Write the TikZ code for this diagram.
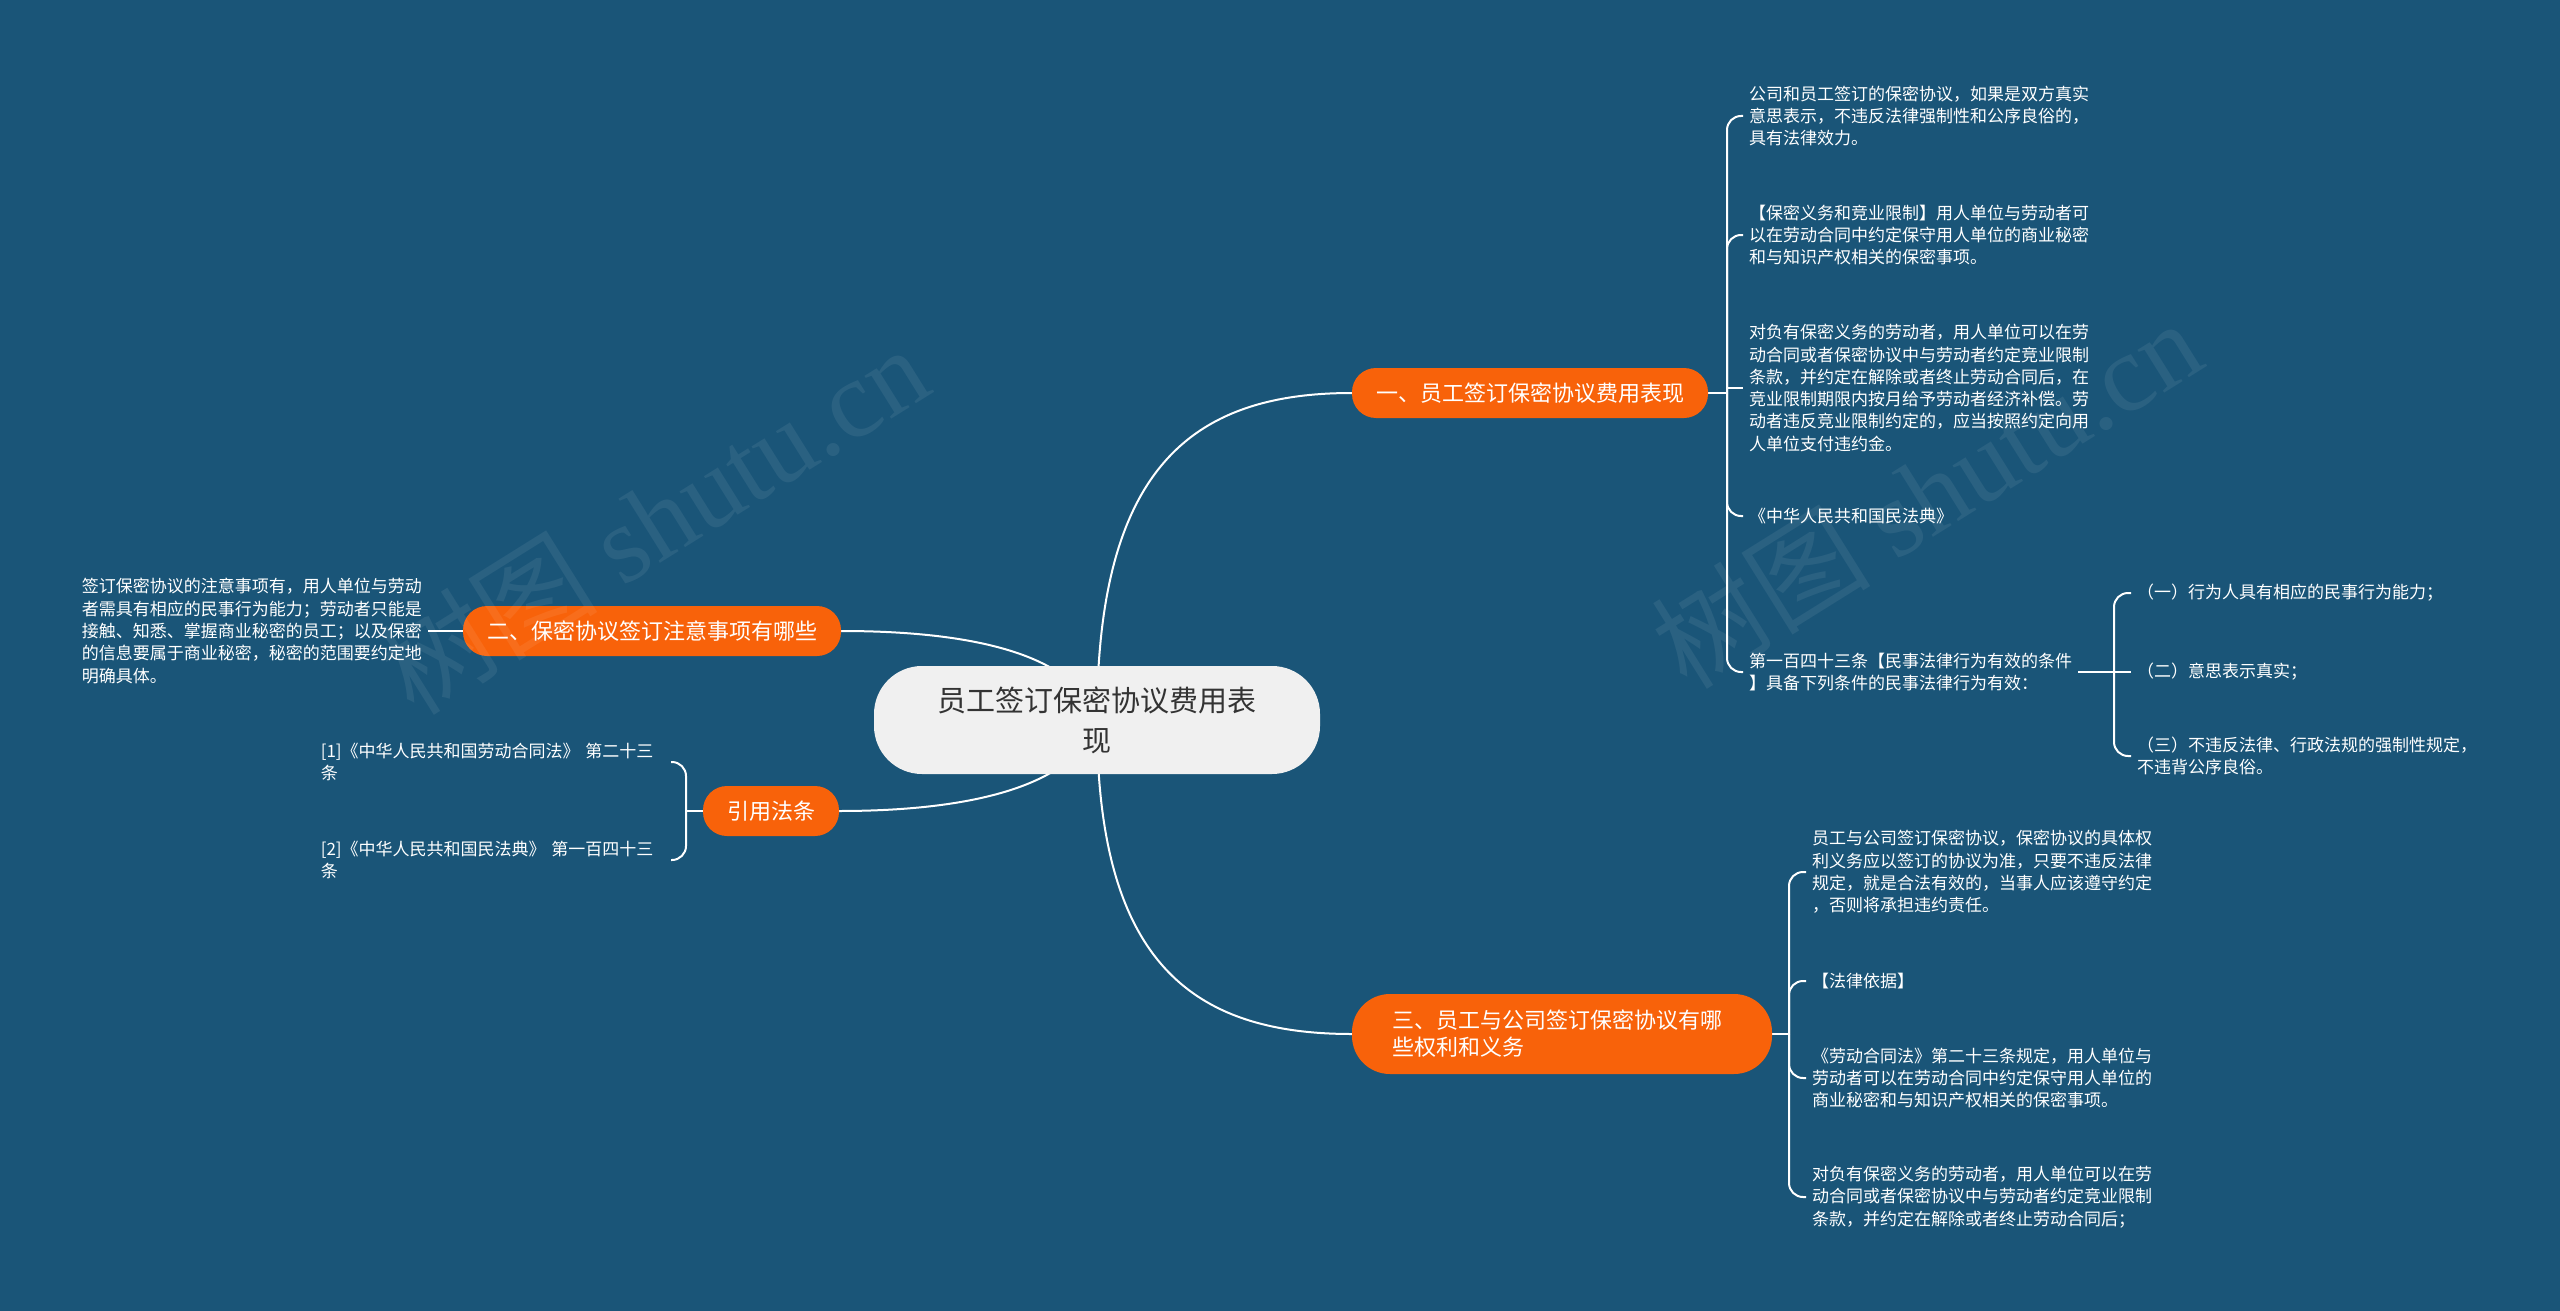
\documentclass[tikz,border=0pt]{standalone}
\usepackage{fontspec}
\setmainfont{Noto Sans CJK SC}
\newfontfamily\wmserif{Liberation Serif}
\usetikzlibrary{backgrounds}
\definecolor{bgblue}{HTML}{1A5578}
\definecolor{brorange}{HTML}{F8620A}
\definecolor{rootfill}{HTML}{F0F0F0}
\definecolor{roottext}{HTML}{333333}
\begin{document}
\begin{tikzpicture}[x=1pt,y=-1pt,
  conn/.style={draw=white, line width=2pt},
  brk/.style={draw=white, line width=2pt, rounded corners=14pt},
  rootnode/.style={fill=rootfill, text=roottext, rounded corners=48pt, font=\fontsize{29}{40}\selectfont, align=center, minimum width=446pt, minimum height=108pt, inner sep=0pt},
  branch/.style={fill=brorange, text=white, rounded corners=24pt, font=\fontsize{22}{27}\selectfont, inner xsep=24pt, inner ysep=0pt, minimum height=50pt},
  leaf/.style={text=white, font=\fontsize{17}{22.3}\selectfont, align=left, inner xsep=6pt, inner ysep=0pt},
  wmark/.style={text=white, opacity=0.07, rotate=32, font=\fontsize{110}{110}\selectfont}
]
\useasboundingbox (0,0) rectangle (2560,1311);

% root and branches
\node[rootnode] (root) at (1097,720) {员工签订保密协议费用表\\现};
\node[branch] (n1) at (1530,393) {一、员工签订保密协议费用表现};
\node[branch, minimum height=80pt, rounded corners=38pt, text width=340pt, inner xsep=40pt, align=left] (n3) at (1562,1034) {三、员工与公司签订保密协议有哪\\些权利和义务};
\node[branch] (n2) at (652,631) {二、保密协议签订注意事项有哪些};
\node[branch] (n4) at (771,811) {引用法条};

% branch 1 leaves
\coordinate (b1) at (1727,393);
\node[leaf, anchor=west] (a1) at (1743,116) {公司和员工签订的保密协议，如果是双方真实\\意思表示，不违反法律强制性和公序良俗的，\\具有法律效力。};
\node[leaf, anchor=west] (a2) at (1743,235) {【保密义务和竞业限制】用人单位与劳动者可\\以在劳动合同中约定保守用人单位的商业秘密\\和与知识产权相关的保密事项。};
\node[leaf, anchor=west] (a3) at (1743,388) {对负有保密义务的劳动者，用人单位可以在劳\\动合同或者保密协议中与劳动者约定竞业限制\\条款，并约定在解除或者终止劳动合同后，在\\竞业限制期限内按月给予劳动者经济补偿。劳\\动者违反竞业限制约定的，应当按照约定向用\\人单位支付违约金。};
\node[leaf, anchor=west] (a4) at (1743,516) {《中华人民共和国民法典》};
\node[leaf, anchor=west] (a5) at (1743,672) {第一百四十三条【民事法律行为有效的条件\\】具备下列条件的民事法律行为有效：};

% sub leaves
\coordinate (b5) at (2114,672);
\node[leaf, anchor=west] (s1) at (2131,593) {（一）行为人具有相应的民事行为能力；};
\node[leaf, anchor=west] (s2) at (2131,672) {（二）意思表示真实；};
\node[leaf, anchor=west] (s3) at (2131,756) {（三）不违反法律、行政法规的强制性规定，\\不违背公序良俗。};

% branch 3 leaves
\coordinate (b3) at (1789,1034);
\node[leaf, anchor=west] (c1) at (1806,872) {员工与公司签订保密协议，保密协议的具体权\\利义务应以签订的协议为准，只要不违反法律\\规定，就是合法有效的，当事人应该遵守约定\\，否则将承担违约责任。};
\node[leaf, anchor=west] (c2) at (1806,981) {【法律依据】};
\node[leaf, anchor=west] (c3) at (1806,1078) {《劳动合同法》第二十三条规定，用人单位与\\劳动者可以在劳动合同中约定保守用人单位的\\商业秘密和与知识产权相关的保密事项。};
\node[leaf, anchor=west] (c4) at (1806,1197) {对负有保密义务的劳动者，用人单位可以在劳\\动合同或者保密协议中与劳动者约定竞业限制\\条款，并约定在解除或者终止劳动合同后；};

% left leaves
\node[leaf, anchor=east, text width=340pt] (lt) at (428,631) {签订保密协议的注意事项有，用人单位与劳动\\者需具有相应的民事行为能力；劳动者只能是\\接触、知悉、掌握商业秘密的员工；以及保密\\的信息要属于商业秘密，秘密的范围要约定地\\明确具体。};
\coordinate (bL) at (686,811);
\node[leaf, anchor=east, text width=344pt] (r1) at (671,762) {[1]《中华人民共和国劳动合同法》 第二十三\\条};
\node[leaf, anchor=east, text width=344pt] (r2) at (671,860) {[2]《中华人民共和国民法典》 第一百四十三\\条};

% watermarks
\node[wmark] (wm1) at (653,519) {树图 {\wmserif shutu.cn}};
\node[wmark] (wm2) at (1926,493) {树图 {\wmserif shutu.cn}};

\begin{scope}[on background layer]
\fill[bgblue] (0,0) rectangle (2560,1311);
% root connectors
\draw[conn] (root.center) .. controls (1097,470) and (1190,393) .. (n1.west);
\draw[conn] (root.center) .. controls (1097,960) and (1190,1034) .. (n3.west);
\draw[conn] (n2.east) .. controls (960,631) and (1075,650) .. (root.center);
\draw[conn] (n4.east) .. controls (960,811) and (1075,790) .. (root.center);
% branch 1 bracket
\draw[conn] (n1.east) -- (b1);
\draw[brk] (b1) -- (b1 |- a1.west) -- (a1.west);
\draw[brk] (b1) -- (b1 |- a2.west) -- (a2.west);
\draw[conn] (b1 |- a3.west) -- (a3.west);
\draw[brk] (b1) -- (b1 |- a4.west) -- (a4.west);
\draw[brk] (b1) -- (b1 |- a5.west) -- (a5.west);
% sub bracket
\draw[conn] (a5.east) -- (b5);
\draw[brk] (b5) -- (b5 |- s1.west) -- (s1.west);
\draw[conn] (b5) -- (s2.west);
\draw[brk] (b5) -- (b5 |- s3.west) -- (s3.west);
% branch 3 bracket
\draw[conn] (n3.east) -- (b3);
\draw[brk] (b3) -- (b3 |- c1.west) -- (c1.west);
\draw[brk] (b3) -- (b3 |- c2.west) -- (c2.west);
\draw[brk] (b3) -- (b3 |- c3.west) -- (c3.west);
\draw[brk] (b3) -- (b3 |- c4.west) -- (c4.west);
% left
\draw[conn] (lt.east) -- (n2.west);
\draw[conn] (n4.west) -- (bL);
\draw[brk] (bL) -- (bL |- r1.east) -- (r1.east);
\draw[brk] (bL) -- (bL |- r2.east) -- (r2.east);
\end{scope}
\end{tikzpicture}
\end{document}
